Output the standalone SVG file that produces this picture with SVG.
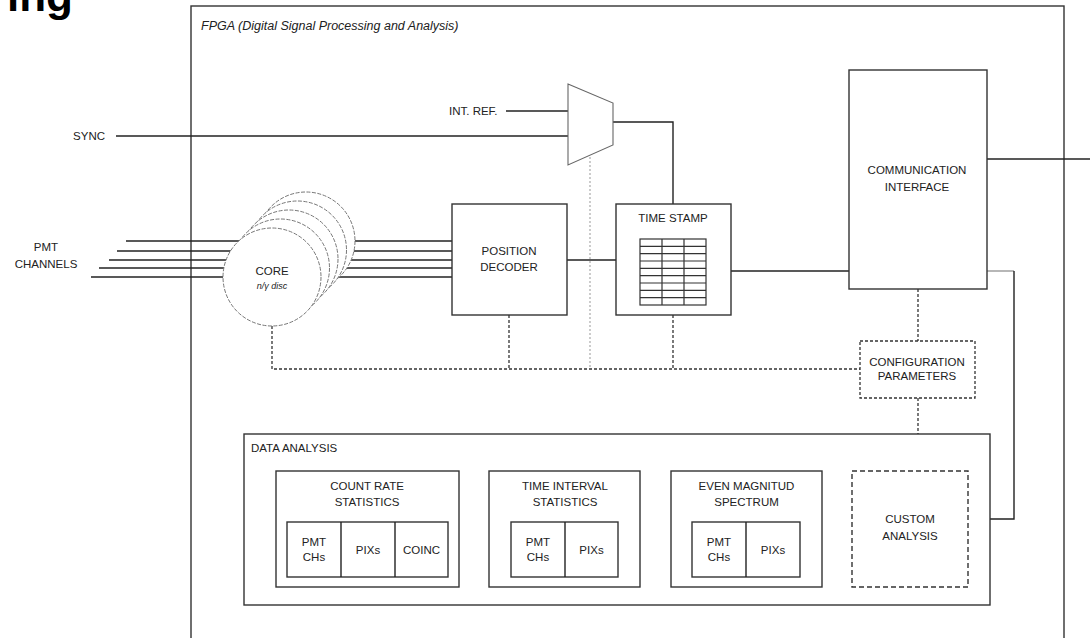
<svg xmlns="http://www.w3.org/2000/svg" width="1090" height="638" viewBox="0 0 1090 638">
<style>
  text { font-family: "Liberation Sans", Arial, sans-serif; font-size: 11.5px; fill: #222; }
  .c { text-anchor: middle; }
  .box { fill: #fff; stroke: #333; stroke-width: 1.4; }
  .dbox { fill: #fff; stroke: #333; stroke-width: 1.3; stroke-dasharray: 3 2; }
  .ln { fill: none; stroke: #222; stroke-width: 1.4; }
  .dl { fill: none; stroke: #333; stroke-width: 1.3; stroke-dasharray: 3 2; }
  .gl { fill: none; stroke: #aaa; stroke-width: 1.2; stroke-dasharray: 2 2; }
  .circ { fill: #fff; stroke: #777; stroke-width: 1; stroke-dasharray: 4 1.5; }
  .grid { fill: none; stroke: #333; stroke-width: 1.2; }
</style>
<rect width="1090" height="638" fill="#fff"/>
<text x="73" y="11" style="font-size:44px;font-weight:bold;fill:#000" text-anchor="end">ing</text>

<g id="fpga">
  <rect x="191" y="6" width="873" height="660" fill="none" stroke="#333" stroke-width="1.4"/>
  <text x="201" y="30" style="font-size:12.5px;font-style:italic">FPGA (Digital Signal Processing and Analysis)</text>
</g>

<g id="connectors">
  <text x="105" y="140" text-anchor="end">SYNC</text>
  <line class="ln" x1="116" y1="136" x2="568" y2="136"/>
  <text x="449" y="115">INT. REF.</text>
  <line class="ln" x1="506" y1="111" x2="568" y2="111"/>
  <polyline class="ln" points="613,122 673,122 673,204"/>
  <line class="ln" x1="126" y1="241" x2="452" y2="241"/>
  <line class="ln" x1="117" y1="251" x2="452" y2="251"/>
  <line class="ln" x1="109" y1="260" x2="452" y2="260"/>
  <line class="ln" x1="99" y1="268" x2="452" y2="268"/>
  <line class="ln" x1="91" y1="277" x2="452" y2="277"/>
  <line class="ln" x1="567" y1="260" x2="616" y2="260"/>
  <line class="ln" x1="706" y1="271" x2="849" y2="271"/>
  <line class="ln" x1="987" y1="159" x2="1090" y2="159"/>
  <line x1="987" y1="271" x2="1014" y2="271" stroke="#999" stroke-width="1.4"/>
  <polyline class="ln" points="1014,271 1014,519 990,519"/>
  <polyline class="dl" points="272,326 272,369 860,369"/>
  <line class="dl" x1="509" y1="315" x2="509" y2="369"/>
  <line class="dl" x1="673" y1="315" x2="673" y2="369"/>
  <line class="gl" x1="590" y1="157" x2="590" y2="369"/>
  <line class="dl" x1="918" y1="289" x2="918" y2="341"/>
  <line class="dl" x1="918" y1="398" x2="918" y2="434"/>
</g>

<g id="mux">
  <polygon points="568,84 613,103 613,145 568,165" fill="#fff" stroke="#666" stroke-width="1.1"/>
</g>

<g id="pmt-label">
  <text class="c" x="46" y="251">PMT</text>
  <text class="c" x="46" y="268">CHANNELS</text>
</g>

<g id="core">
  <circle class="circ" cx="306" cy="241" r="49"/>
  <circle class="circ" cx="297.5" cy="250" r="49"/>
  <circle class="circ" cx="289" cy="259" r="49"/>
  <circle class="circ" cx="280.5" cy="268" r="49"/>
  <circle class="circ" cx="272" cy="277" r="49"/>
  <text class="c" x="272" y="275">CORE</text>
  <text class="c" x="272" y="289" style="font-size:9px;font-style:italic">n/γ disc</text>
</g>

<g id="position-decoder">
  <rect class="box" x="452" y="204" width="115" height="111"/>
  <text class="c" x="509" y="255">POSITION</text>
  <text class="c" x="509" y="271">DECODER</text>
</g>

<g id="time-stamp">
  <rect class="box" x="616" y="204" width="115" height="111"/>
  <text class="c" x="673" y="222">TIME STAMP</text>
  <rect class="grid" x="640" y="239" width="66" height="66"/>
  <path class="grid" d="M662,239V305M684,239V305M640,246.3H706M640,253.7H706M640,261H706M640,268.3H706M640,275.7H706M640,283H706M640,290.3H706M640,297.7H706"/>
</g>

<g id="communication-interface">
  <rect class="box" x="849" y="70" width="138" height="219"/>
  <text class="c" x="917" y="174">COMMUNICATION</text>
  <text class="c" x="917" y="191">INTERFACE</text>
</g>

<g id="configuration-parameters">
  <rect class="dbox" x="860" y="341" width="115" height="57"/>
  <text class="c" x="917" y="366">CONFIGURATION</text>
  <text class="c" x="917" y="380">PARAMETERS</text>
</g>

<g id="data-analysis">
  <rect class="box" x="244" y="434" width="746" height="171"/>
  <text x="251" y="452">DATA ANALYSIS</text>
</g>

<g id="count-rate-statistics">
  <rect class="box" x="276" y="471" width="183" height="116"/>
  <text class="c" x="367" y="490">COUNT RATE</text>
  <text class="c" x="367" y="506">STATISTICS</text>
  <rect class="box" x="287" y="522" width="161" height="55"/>
  <line class="ln" x1="341" y1="522" x2="341" y2="577"/>
  <line class="ln" x1="395" y1="522" x2="395" y2="577"/>
  <text class="c" x="314" y="546">PMT</text>
  <text class="c" x="314" y="561">CHs</text>
  <text class="c" x="368" y="554">PIXs</text>
  <text class="c" x="421.5" y="554">COINC</text>
</g>

<g id="time-interval-statistics">
  <rect class="box" x="489" y="471" width="151" height="116"/>
  <text class="c" x="565" y="490">TIME INTERVAL</text>
  <text class="c" x="565" y="506">STATISTICS</text>
  <rect class="box" x="511" y="522" width="107" height="55"/>
  <line class="ln" x1="565" y1="522" x2="565" y2="577"/>
  <text class="c" x="538" y="546">PMT</text>
  <text class="c" x="538" y="561">CHs</text>
  <text class="c" x="591.5" y="554">PIXs</text>
</g>

<g id="even-magnitud-spectrum">
  <rect class="box" x="671" y="471" width="151" height="116"/>
  <text class="c" x="746.5" y="490">EVEN MAGNITUD</text>
  <text class="c" x="746.5" y="506">SPECTRUM</text>
  <rect class="box" x="692" y="522" width="108" height="55"/>
  <line class="ln" x1="746" y1="522" x2="746" y2="577"/>
  <text class="c" x="719" y="546">PMT</text>
  <text class="c" x="719" y="561">CHs</text>
  <text class="c" x="773" y="554">PIXs</text>
</g>

<g id="custom-analysis">
  <rect class="box" x="852" y="471" width="116" height="116" style="stroke-dasharray:5 3"/>
  <text class="c" x="910" y="523">CUSTOM</text>
  <text class="c" x="910" y="540">ANALYSIS</text>
</g>
</svg>
